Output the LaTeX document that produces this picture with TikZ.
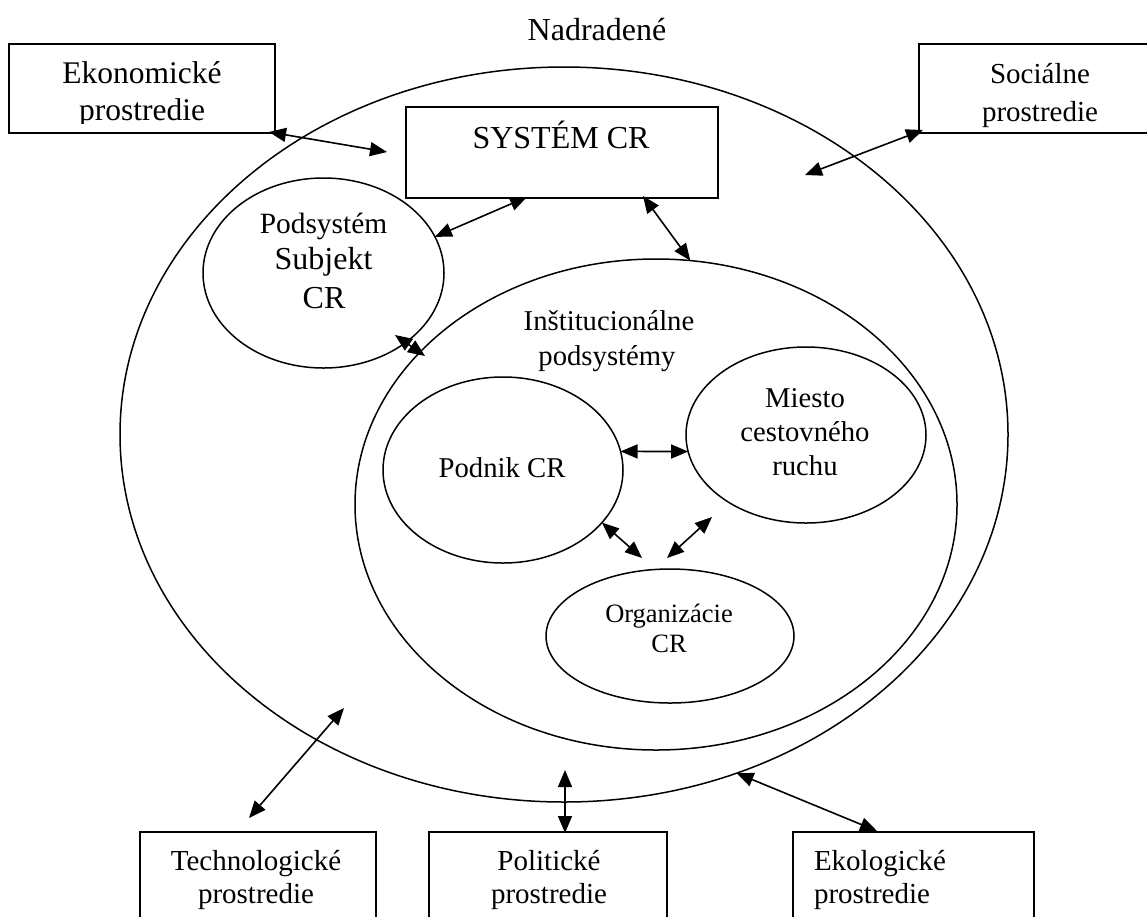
\documentclass[tikz,border=0pt]{standalone}
\usepackage{fontspec}
\setmainfont{Liberation Serif}
\usetikzlibrary{shapes.geometric,arrows.meta}
\begin{document}
\begin{tikzpicture}[x=1pt,y=-1pt,
  box/.style={draw,line width=1.6pt,inner sep=0pt,outer sep=0pt},
  ell/.style={draw,ellipse,line width=1.5pt,inner sep=0pt,outer sep=0pt},
  lbl/.style={anchor=base,inner sep=0pt,outer sep=0pt},
  lblw/.style={anchor=base west,inner sep=0pt,outer sep=0pt},
  arr/.style={{Triangle[length=17pt,width=14pt]}-{Triangle[length=17pt,width=14pt]},line width=1.6pt},
  fA/.style={font=\fontsize{31.5}{36}\selectfont},
  fS/.style={font=\fontsize{32}{36}\selectfont},
  fB/.style={font=\fontsize{29}{36}\selectfont},
  fC/.style={font=\fontsize{28.7}{34}\selectfont},
  fD/.style={font=\fontsize{26.5}{32}\selectfont}]
\useasboundingbox (0,0) rectangle (1147,916);
\clip (0,0) rectangle (1147,916);

% boxes
\node[box,minimum width=266pt,minimum height=89pt] (ekon) at (142,88.5) {};
\node[box,minimum width=242pt,minimum height=89pt] (soc) at (1040,88.5) {};
\node[box,minimum width=312pt,minimum height=91pt] (sys) at (562,152.5) {};
\node[box,minimum width=236pt,minimum height=128pt] (tech) at (258,896) {};
\node[box,minimum width=238pt,minimum height=128pt] (pol) at (548,896) {};
\node[box,minimum width=241pt,minimum height=128pt] (eko) at (913.5,896) {};

% ellipses
\node[ell,minimum width=888pt,minimum height=735pt] (outer) at (564,434.5) {};
\node[ell,minimum width=602pt,minimum height=491pt] (inst) at (656,504.5) {};
\node[ell,minimum width=241pt,minimum height=190pt] (podsys) at (323.5,273) {};
\node[ell,minimum width=240pt,minimum height=186pt] (podnik) at (503,470) {};
\node[ell,minimum width=240pt,minimum height=176pt] (miesto) at (806,435) {};
\node[ell,minimum width=248pt,minimum height=134pt] (org) at (670,636) {};

% texts
\node[lbl,fS] (nad) at (597,40) {Nadradené};
\begin{scope}
  \clip (9,44) rectangle (275,123.5);
  \node[lbl,fA] (ekon1) at (142,83) {Ekonomické};
  \node[lbl,fA] (ekon2) at (142,120) {prostredie};
\end{scope}
\node[lbl,fB] (soc1) at (1040,83) {Sociálne};
\node[lbl,fB] (soc2) at (1040,121) {prostredie};
\node[lbl,fS] (syst) at (561,148) {SYSTÉM CR};
\node[lbl,font=\fontsize{29.4}{36}\selectfont] (ps1) at (323.5,233) {Podsystém};
\node[lbl,fS] (ps2) at (323.5,269) {Subjekt};
\node[lbl,fS] (ps3) at (324,308) {CR};
\node[lbl,fC] (in1) at (609,330) {Inštitucionálne};
\node[lbl,fC] (in2) at (607,365) {podsystémy};
\node[lbl,fC] (pn) at (502,477) {Podnik CR};
\node[lbl,fC] (mi1) at (805,407) {Miesto};
\node[lbl,fC] (mi2) at (805,441) {cestovného};
\node[lbl,fC] (mi3) at (805,475) {ruchu};
\node[lbl,fD] (or1) at (669,622) {Organizácie};
\node[lbl,fD] (or2) at (669,652) {CR};
\node[lbl,fB] (te1) at (256,870) {Technologické};
\node[lbl,fB] (te2) at (256,903) {prostredie};
\node[lbl,fB] (po1) at (549,870) {Politické};
\node[lbl,fB] (po2) at (549,903) {prostredie};
\node[lblw,fB] (ek1) at (814,870) {Ekologické};
\node[lblw,fB] (ek2) at (814,903) {prostredie};

% free arrow ends
\coordinate (cEk1) at (269,132);
\coordinate (cEk2) at (387,152);
\coordinate (cSo1) at (923,130);
\coordinate (cSo2) at (805,175);
\coordinate (cSy1) at (527,197);
\coordinate (cSy2) at (643,196);
\coordinate (cPs1) at (395,335);
\coordinate (cPs2) at (425,356);
\coordinate (cOr1) at (642,558);
\coordinate (cMi1) at (712,517);
\coordinate (cOr2) at (667,558);
\coordinate (cTe1) at (344,708);
\coordinate (cTe2) at (249,818);
\coordinate (cPo1) at (565,770);
\coordinate (cPo2) at (565,833);
\coordinate (cEo2) at (877,831);

% connectors
\draw[arr] (cEk1) -- (cEk2);
\draw[arr] (cSo1) -- (cSo2);
\draw[arr] (podsys.18) -- (cSy1);
\draw[arr] (cSy2) -- (inst.82.6);
\draw[arr] (cPs1) -- (cPs2);
\draw[arr] (podnik.9) -- (miesto.188);
\draw[arr] (podnik.-28) -- (cOr1);
\draw[arr] (cMi1) -- (cOr2);
\draw[arr] (cTe1) -- (cTe2);
\draw[arr] (cPo1) -- (cPo2);
\draw[arr] (outer.-63.5) -- (cEo2);
\end{tikzpicture}
\end{document}
